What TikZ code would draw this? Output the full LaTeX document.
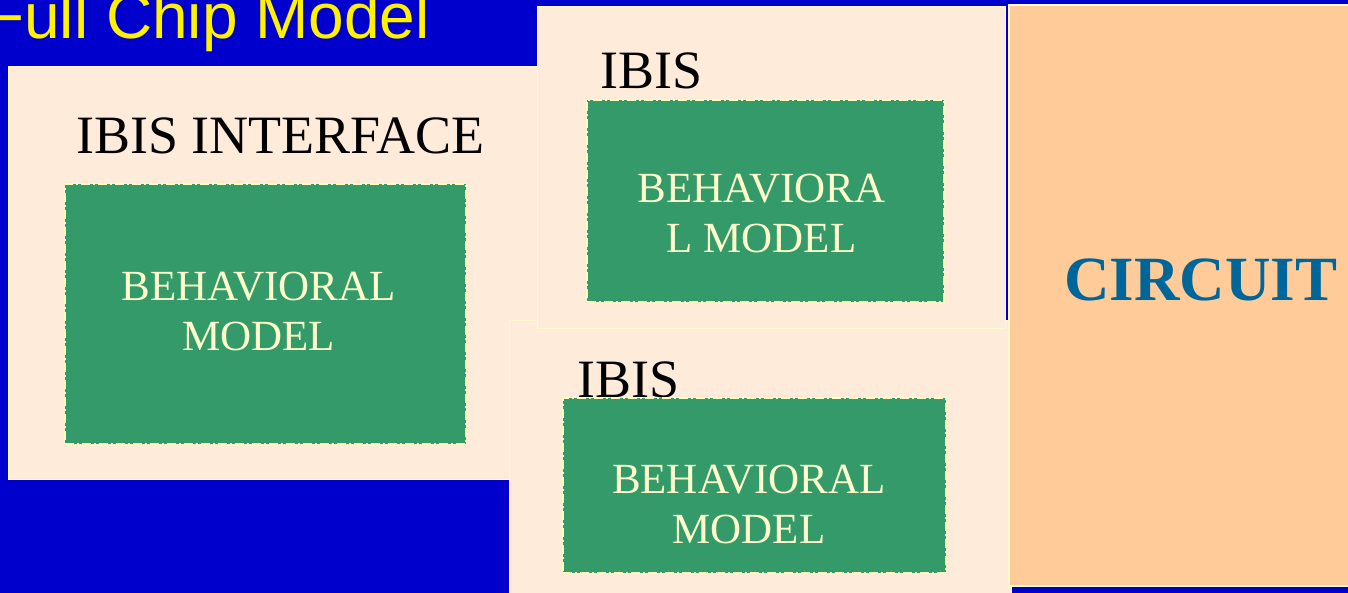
\documentclass[tikz,border=0pt]{standalone}
\usepackage{fontspec}
\setmainfont{Liberation Serif}
\newfontfamily\titlefont{Liberation Sans}
\usepackage{tikz}
\definecolor{slideblue}{HTML}{0000CC}
\definecolor{ibisbeige}{HTML}{FFEBD9}
\definecolor{modelgreen}{HTML}{359A69}
\definecolor{edgeyellow}{HTML}{FFFACC}
\definecolor{dashyellow}{HTML}{FFFFB8}
\definecolor{modelyellow}{HTML}{FFFFCC}
\definecolor{circuitfill}{HTML}{FFCC99}
\definecolor{circuitblue}{HTML}{006699}

\begin{document}
\begin{tikzpicture}[x=1pt,y=-1pt,
	ibisbox/.style={draw=edgeyellow, line width=1pt, fill=ibisbeige, inner sep=0pt},
	modelbox/.style={draw=dashyellow, line width=2pt, fill=modelgreen, inner sep=0pt, dash pattern=on 9pt off 3pt on 2pt off 3pt},
	modeltext/.style={text=modelyellow, align=center, inner sep=0pt, font=\fontsize{43}{50}\selectfont},
	ibistext/.style={anchor=base west, inner sep=0pt, font=\fontsize{54}{60}\selectfont}]
	
	\useasboundingbox (0,0) rectangle (1348,593);
	\clip (0,0) rectangle (1348,593);
	\fill[slideblue] (0,0) rectangle (1348,593);
	
	% title, cut off by the slide edge
	\node[anchor=base west, inner sep=0pt, text=yellow, font=\titlefont\fontsize{64}{70}\selectfont] (title) at (-15,39) {Full Chip Model};
	
	% left block
	\node[ibisbox, minimum width=529, minimum height=412] (ifacebox) at (272.5,273) {};
	\node[ibistext] (ifacetext) at (76,154) {IBIS INTERFACE};
	\node[modelbox, minimum width=401, minimum height=260] (ifacemodel) at (265,314) {};
	\node[modeltext] (ifacelabel) at (258.5,311.5) {BEHAVIORAL\\MODEL};
	
	% lower block
	\node[ibisbox, minimum width=502, minimum height=280] (lowbox) at (760,460) {};
	\node[ibistext] (lowtext) at (577,397) {IBIS};
	\node[modelbox, minimum width=383, minimum height=175] (lowmodel) at (754.5,485.5) {};
	\node[modeltext] (lowlabel) at (749,504) {BEHAVIORAL\\MODEL};
	
	% upper block
	\node[ibisbox, minimum width=468, minimum height=321] (upbox) at (771,167.5) {};
	\node[ibistext] (uptext) at (600,88.5) {IBIS};
	\node[modelbox, minimum width=357, minimum height=202] (upmodel) at (765.5,201) {};
	\node[modeltext] (uplabel) at (761.5,213) {BEHAVIORA\\L MODEL};
	
	% circuit
	\node[draw=edgeyellow, line width=1.5pt, fill=circuitfill, inner sep=0pt, minimum width=351, minimum height=581] (circuitbox) at (1184.5,295.5) {};
	\node[anchor=base west, inner sep=0pt, text=circuitblue, font=\bfseries\fontsize{63}{70}\selectfont] (circuittext) at (1064,301) {CIRCUIT};
	
\end{tikzpicture}
\end{document}
